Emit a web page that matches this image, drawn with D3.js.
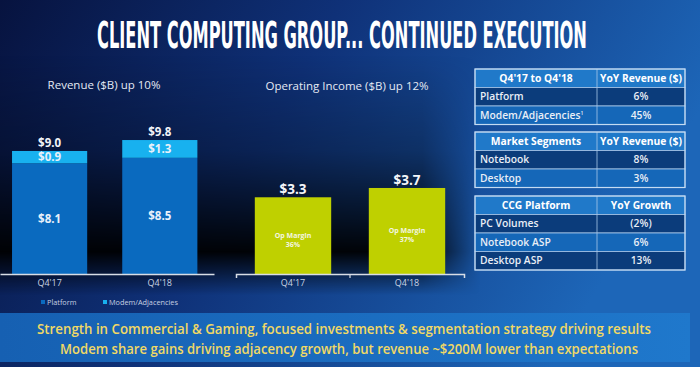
<!DOCTYPE html>
<html>
<head>
<meta charset="utf-8">
<script src="https://cdn.jsdelivr.net/npm/d3@7"></script>
<style>
  html, body { margin: 0; padding: 0; background: #0b1a52; }
  svg { display: block; font-family: "Open Sans", "Noto Sans", sans-serif; }
</style>
</head>
<body>
<div id="slide"></div>
<script>
// ---- data ----
const quarters = ["Q4'17", "Q4'18"];
const platformRevenue = [8.1, 8.5];
const modemRevenue = [0.9, 1.3];
const totalRevenue = [9.0, 9.8];
const opIncome = [3.3, 3.7];
const opMargin = ["36%", "37%"];

const legendItems = ["Platform", "Modem/Adjacencies"];

const table1Header = ["Q4'17 to Q4'18", "YoY Revenue ($)"];
const table1Rows = [["Platform", "6%"], ["Modem/Adjacencies", "45%"]];
const table2Header = ["Market Segments", "YoY Revenue ($)"];
const table2Rows = [["Notebook", "8%"], ["Desktop", "3%"]];
const table3Header = ["CCG Platform", "YoY Growth"];
const table3Rows = [["PC Volumes", "(2%)"], ["Notebook ASP", "6%"], ["Desktop ASP", "13%"]];

const titleText = "CLIENT COMPUTING GROUP... CONTINUED EXECUTION";
const footerLines = [
  "Strength in Commercial & Gaming, focused investments & segmentation strategy driving results",
  "Modem share gains driving adjacency growth, but revenue ~$200M lower than expectations"
];

// ---- setup ----
const W = 700, H = 367;
const svg = d3.select("#slide").append("svg")
  .attr("width", W)
  .attr("height", H);

const defs = svg.append("defs");

// background gradient, dark navy on the left to brighter blue on the right
const bg = defs.append("linearGradient").attr("id", "bg")
  .attr("x1", 0).attr("y1", 0).attr("x2", 1).attr("y2", 0.3);
bg.append("stop").attr("offset", 0).attr("stop-color", "#07133f");
bg.append("stop").attr("offset", 0.45).attr("stop-color", "#0f3178");
bg.append("stop").attr("offset", 1).attr("stop-color", "#1d66b8");

// dark shading behind the charts
const shade = defs.append("linearGradient").attr("id", "shade")
  .attr("x1", 0).attr("y1", 0).attr("x2", 0).attr("y2", 1);
shade.append("stop").attr("offset", 0).attr("stop-color", "#000").attr("stop-opacity", 0);
shade.append("stop").attr("offset", 0.4).attr("stop-color", "#000").attr("stop-opacity", 0.3);
shade.append("stop").attr("offset", 0.82).attr("stop-color", "#000").attr("stop-opacity", 0.95);
shade.append("stop").attr("offset", 1).attr("stop-color", "#000").attr("stop-opacity", 0);

const fadeX = defs.append("linearGradient").attr("id", "fadeX")
  .attr("x1", 0).attr("y1", 0).attr("x2", 1).attr("y2", 0);
fadeX.append("stop").attr("offset", 0.88).attr("stop-color", "#fff");
fadeX.append("stop").attr("offset", 1).attr("stop-color", "#000");
defs.append("mask").attr("id", "fadeMask")
  .attr("maskUnits", "userSpaceOnUse")
  .attr("x", 0).attr("y", 0).attr("width", W).attr("height", H)
  .append("rect")
  .attr("x", 0).attr("y", 50).attr("width", 480).attr("height", 250)
  .attr("fill", "url(#fadeX)");

const band = defs.append("linearGradient").attr("id", "band")
  .attr("x1", 0).attr("y1", 0).attr("x2", 1).attr("y2", 0);
band.append("stop").attr("offset", 0).attr("stop-color", "#1660b2");
band.append("stop").attr("offset", 1).attr("stop-color", "#1f78cc");

svg.append("rect").attr("width", W).attr("height", H).attr("fill", "url(#bg)");
svg.append("rect")
  .attr("x", 0).attr("y", 55).attr("width", 480).attr("height", 240)
  .attr("fill", "url(#shade)")
  .attr("mask", "url(#fadeMask)");

// title: tall caps squeezed horizontally to span about 490px
const titleG = svg.append("g");
const title = titleG.append("text")
  .attr("x", 0)
  .attr("y", 0)
  .attr("text-anchor", "middle")
  .attr("font-family", "'DejaVu Sans Condensed', 'Liberation Sans', sans-serif")
  .attr("font-weight", "bold")
  .attr("font-size", 37)
  .attr("fill", "#ffffff")
  .text(titleText);
const natural = title.node().getComputedTextLength();
titleG.attr("transform", `translate(342,48) scale(${490 / natural},1)`);

// ---- revenue stacked bars ----
const axisY = 274;
const platformColor = "#0a6abf";
const modemColor = "#18b1ef";

const xRev = d3.scaleBand()
  .domain(quarters)
  .range([0, 214])
  .paddingInner(0.318)
  .paddingOuter(0.13)
  .align(0.42);

const yRev = d3.scaleLinear()
  .domain([0, 10])
  .range([axisY, axisY - 136.7]);

svg.append("text")
  .attr("x", 104).attr("y", 89)
  .attr("text-anchor", "middle")
  .attr("font-size", 11.5)
  .attr("fill", "#e4eaf4")
  .text("Revenue ($B) up 10%");

const revG = svg.append("g");
quarters.forEach((q, i) => {
  const x = xRev(q), bw = xRev.bandwidth();
  revG.append("rect")
    .attr("x", x).attr("y", yRev(platformRevenue[i]))
    .attr("width", bw).attr("height", yRev(0) - yRev(platformRevenue[i]))
    .attr("fill", platformColor);
  revG.append("rect")
    .attr("x", x).attr("y", yRev(totalRevenue[i]))
    .attr("width", bw).attr("height", yRev(platformRevenue[i]) - yRev(totalRevenue[i]))
    .attr("fill", modemColor);

  const cx = x + bw / 2;
  revG.append("text")
    .attr("x", cx).attr("y", (yRev(0) + yRev(platformRevenue[i])) / 2 + 4)
    .attr("text-anchor", "middle")
    .attr("font-size", 11.5).attr("font-weight", "bold")
    .attr("fill", "#e8f0fa")
    .text("$" + platformRevenue[i].toFixed(1));
  revG.append("text")
    .attr("x", cx).attr("y", (yRev(platformRevenue[i]) + yRev(totalRevenue[i])) / 2 + 4)
    .attr("text-anchor", "middle")
    .attr("font-size", 11.5).attr("font-weight", "bold")
    .attr("fill", "#e8f0fa")
    .text("$" + modemRevenue[i].toFixed(1));
  revG.append("text")
    .attr("x", cx).attr("y", yRev(totalRevenue[i]) - 4)
    .attr("text-anchor", "middle")
    .attr("font-size", 11.5).attr("font-weight", "bold")
    .attr("fill", "#f2f4f8")
    .text("$" + totalRevenue[i].toFixed(1));
});

const revAxis = svg.append("g")
  .attr("transform", `translate(0,${axisY})`)
  .call(d3.axisBottom(xRev).tickSize(0).tickSizeOuter(0).tickPadding(6));
revAxis.select(".domain").attr("stroke", "#d8dde6").attr("stroke-width", 1.5);
revAxis.selectAll("text")
  .attr("font-family", "'Open Sans', sans-serif")
  .attr("font-size", 9).attr("fill", "#c9d3e3");

// legend
const legend = svg.append("g");
legendItems.forEach((name, i) => {
  const lx = [41, 103][i];
  legend.append("rect")
    .attr("x", lx).attr("y", 300).attr("width", 4).attr("height", 4)
    .attr("fill", i === 0 ? platformColor : modemColor);
  legend.append("text")
    .attr("x", lx + 6).attr("y", 304.5)
    .attr("font-size", 7.3).attr("fill", "#c6d0e2")
    .text(name);
});

// ---- operating income bars ----
const opColor = "#bfd000";
const xOp = d3.scaleBand()
  .domain(quarters)
  .range([236, 464])
  .paddingInner(0.33)
  .paddingOuter(0.165);

const yOp = d3.scaleLinear()
  .domain([0, 4])
  .range([axisY, axisY - 93]);

svg.append("text")
  .attr("x", 347).attr("y", 90)
  .attr("text-anchor", "middle")
  .attr("font-size", 11.5)
  .attr("fill", "#e4eaf4")
  .text("Operating Income ($B) up 12%");

const opG = svg.append("g");
quarters.forEach((q, i) => {
  const x = xOp(q), bw = xOp.bandwidth(), cx = x + bw / 2;
  opG.append("rect")
    .attr("x", x).attr("y", yOp(opIncome[i]))
    .attr("width", bw).attr("height", yOp(0) - yOp(opIncome[i]))
    .attr("fill", opColor);
  opG.append("text")
    .attr("x", cx).attr("y", yOp(opIncome[i]) - 3)
    .attr("text-anchor", "middle")
    .attr("font-size", 13.5).attr("font-weight", "bold")
    .attr("fill", "#f4f6fa")
    .text("$" + opIncome[i].toFixed(1));
  const mid = (yOp(0) + yOp(opIncome[i])) / 2;
  opG.append("text")
    .attr("x", cx).attr("y", mid + 2)
    .attr("text-anchor", "middle")
    .attr("font-size", 7).attr("font-weight", "bold")
    .attr("fill", "#f3f6e0")
    .text("Op Margin");
  opG.append("text")
    .attr("x", cx).attr("y", mid + 11)
    .attr("text-anchor", "middle")
    .attr("font-size", 7).attr("font-weight", "bold")
    .attr("fill", "#f3f6e0")
    .text(opMargin[i]);
});

const opAxis = svg.append("g")
  .attr("transform", `translate(0,${axisY})`)
  .call(d3.axisBottom(xOp).tickSize(0).tickSizeOuter(4).tickPadding(6));
opAxis.select(".domain").attr("stroke", "#d8dde6").attr("stroke-width", 1.5);
opAxis.selectAll("text")
  .attr("font-family", "'Open Sans', sans-serif")
  .attr("font-size", 9).attr("fill", "#c9d3e3");
// middle tick between the two bands
const midTick = xOp.range()[0] + xOp.step() * (1 + xOp.paddingOuter() - xOp.paddingInner() / 2);
opAxis.append("line")
  .attr("x1", midTick).attr("x2", midTick)
  .attr("y1", 0).attr("y2", 4)
  .attr("stroke", "#d8dde6").attr("stroke-width", 1.2);

// ---- tables ----
const colX = [475, 597, 685];
const rowH = 18.5;
const headerColor = "#2079c9";
const darkRow = "#0b3c7b";
const midRow = "#1567b8";
const lineColor = "#a8c8ea";

function drawTable(top, header, rows) {
  const g = svg.append("g");
  const all = [header].concat(rows);
  all.forEach((r, i) => {
    const y = top + i * rowH;
    const fill = i === 0 ? headerColor : (i % 2 === 1 ? darkRow : midRow);
    g.append("rect")
      .attr("x", colX[0]).attr("y", y)
      .attr("width", colX[2] - colX[0]).attr("height", rowH)
      .attr("fill", fill)
      .attr("stroke", lineColor).attr("stroke-width", 0.8);
    const t0 = g.append("text")
      .attr("x", i === 0 ? (colX[0] + colX[1]) / 2 : colX[0] + 5)
      .attr("y", y + rowH / 2 + 3.6)
      .attr("text-anchor", i === 0 ? "middle" : "start")
      .attr("font-size", 10.3)
      .attr("font-weight", i === 0 ? "bold" : 600)
      .attr("fill", i === 0 ? "#ffffff" : "#e9eef6")
      .text(r[0]);
    if (r[0] === "Modem/Adjacencies") {
      t0.append("tspan").attr("dy", -4).attr("font-size", 5).text("1");
    }
    g.append("text")
      .attr("x", (colX[1] + colX[2]) / 2)
      .attr("y", y + rowH / 2 + 3.6)
      .attr("text-anchor", "middle")
      .attr("font-size", 10.3)
      .attr("font-weight", i === 0 ? "bold" : 600)
      .attr("fill", i === 0 ? "#ffffff" : "#e9eef6")
      .text(r[1]);
  });
  g.append("line")
    .attr("x1", colX[1]).attr("x2", colX[1])
    .attr("y1", top).attr("y2", top + all.length * rowH)
    .attr("stroke", lineColor).attr("stroke-width", 0.8);
  g.append("rect")
    .attr("x", colX[0]).attr("y", top)
    .attr("width", colX[2] - colX[0]).attr("height", all.length * rowH)
    .attr("fill", "none")
    .attr("stroke", "#c4dbf2").attr("stroke-width", 1.2);
}

drawTable(69, table1Header, table1Rows);
drawTable(132, table2Header, table2Rows);
drawTable(196, table3Header, table3Rows);

// ---- footer band ----
svg.append("rect")
  .attr("x", 0).attr("y", 313).attr("width", 690).attr("height", 49)
  .attr("fill", "url(#band)");

footerLines.forEach((line, i) => {
  svg.append("text")
    .attr("x", i === 0 ? 344 : 349)
    .attr("y", 334 + i * 20)
    .attr("text-anchor", "middle")
    .attr("font-size", 14)
    .attr("font-weight", 600)
    .attr("textLength", i === 0 ? 614 : 578)
    .attr("lengthAdjust", "spacingAndGlyphs")
    .attr("fill", "#f1d965")
    .text(line);
});
</script>
</body>
</html>
